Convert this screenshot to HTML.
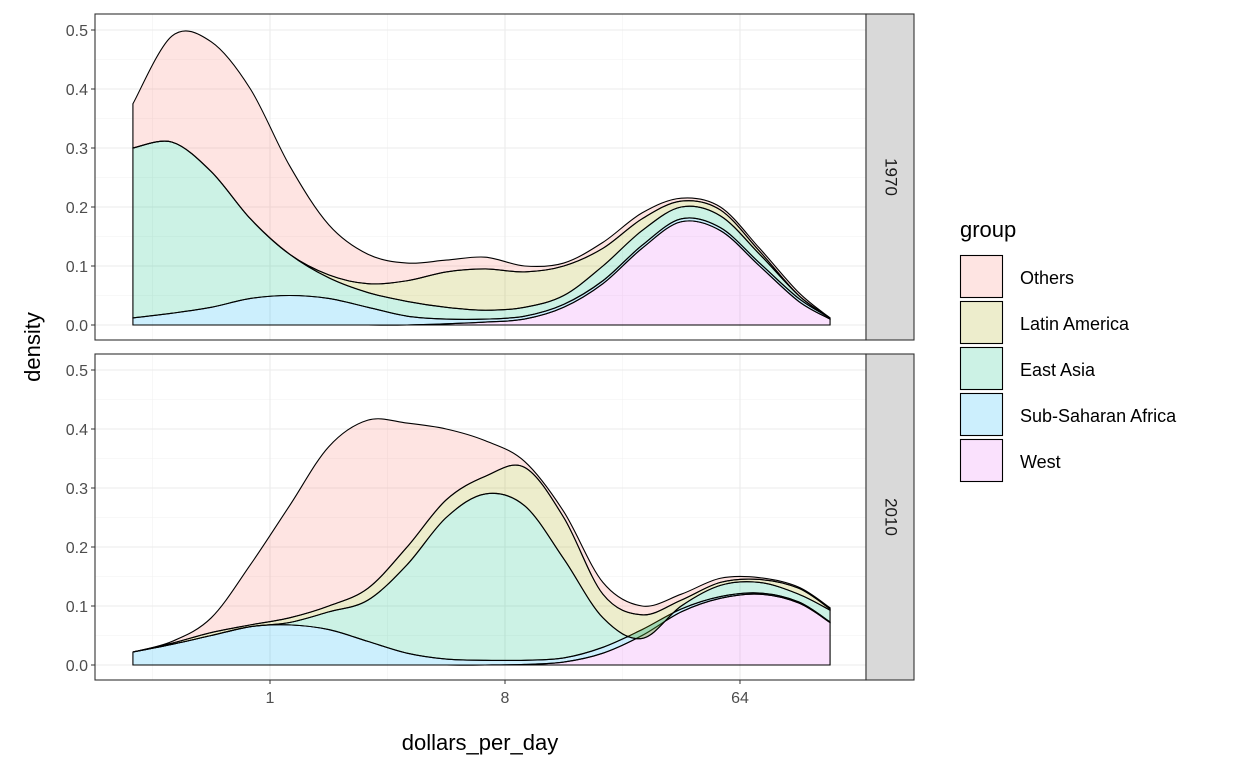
<!DOCTYPE html>
<html><head><meta charset="utf-8"><style>
body{margin:0;background:#fff;font-family:"Liberation Sans",sans-serif;}
svg text{font-family:"Liberation Sans",sans-serif;}
</style></head><body>
<svg id="c" width="1248" height="768" xmlns="http://www.w3.org/2000/svg"></svg>
<script>
const logX = [-1.75,-1.25,-0.75,-0.25,0.25,0.75,1.25,1.75,2.25,2.75,3.25,3.75,4.25,4.75,5.25,5.75,6.25,6.75,7.15];
const groups = ["West","Sub-Saharan Africa","East Asia","Latin America","Others"];
const colors = ["#E76BF3","#00B0F6","#00BF7D","#A3A500","#F8766D"];
const xTicks = [1,8,64];
const yTicks = [0,0.1,0.2,0.3,0.4,0.5];
// cumulative stacked tops, bottom (West) to top (Others)
const top1970 = [
 [0,0,0,0,0,0,0,0,0.002,0.005,0.01,0.03,0.07,0.13,0.175,0.16,0.1,0.04,0.01],
 [0.012,0.02,0.03,0.045,0.05,0.045,0.03,0.015,0.01,0.01,0.015,0.035,0.075,0.135,0.18,0.165,0.105,0.045,0.012],
 [0.3,0.31,0.26,0.18,0.12,0.08,0.055,0.04,0.03,0.025,0.03,0.05,0.1,0.16,0.2,0.185,0.12,0.05,0.012],
 [0.3,0.31,0.26,0.18,0.12,0.085,0.07,0.075,0.09,0.095,0.09,0.1,0.13,0.18,0.21,0.195,0.125,0.05,0.012],
 [0.375,0.49,0.48,0.4,0.27,0.17,0.12,0.105,0.11,0.115,0.1,0.105,0.14,0.19,0.215,0.2,0.13,0.055,0.012]
];
const top2010 = [
 [0,0,0,0,0,0,0,0,0,0,0.001,0.005,0.02,0.05,0.09,0.113,0.12,0.105,0.072],
 [0.022,0.035,0.05,0.065,0.068,0.06,0.04,0.02,0.01,0.008,0.008,0.012,0.03,0.06,0.095,0.116,0.122,0.107,0.073],
 [0.022,0.035,0.05,0.065,0.072,0.09,0.11,0.17,0.25,0.29,0.27,0.18,0.08,0.045,0.1,0.135,0.14,0.12,0.093],
 [0.022,0.037,0.055,0.068,0.08,0.1,0.13,0.2,0.28,0.32,0.335,0.25,0.12,0.085,0.11,0.14,0.145,0.13,0.095],
 [0.022,0.04,0.08,0.17,0.27,0.37,0.415,0.41,0.4,0.38,0.345,0.26,0.14,0.1,0.12,0.147,0.148,0.132,0.097]
];
const NS="http://www.w3.org/2000/svg", svg=document.getElementById('c');
function el(t,a,p){const e=document.createElementNS(NS,t);for(const k in a)e.setAttribute(k,a[k]);(p||svg).appendChild(e);return e;}
const X0=95,X1=866;
const xs=l=>270+78.33*l;
function curve(pts){let d="";for(let i=0;i<pts.length-1;i++){const p0=pts[Math.max(0,i-1)],p1=pts[i],p2=pts[i+1],p3=pts[Math.min(pts.length-1,i+2)];
 const c1=[p1[0]+(p2[0]-p0[0])/6,p1[1]+(p2[1]-p0[1])/6],c2=[p2[0]-(p3[0]-p1[0])/6,p2[1]-(p3[1]-p1[1])/6];
 d+=` C${c1[0]},${c1[1]} ${c2[0]},${c2[1]} ${p2[0]},${p2[1]}`;}return d;}
function panel(py,data,label){
 const ys=v=>py+311-v*590;
 const g=el('g',{});
 el('rect',{x:X0,y:py,width:X1-X0,height:326,fill:'#fff'},g);
 [-1.5,1.5,4.5].forEach(l=>el('line',{x1:xs(l),x2:xs(l),y1:py,y2:py+326,stroke:'#F2F2F2','stroke-width':0.6},g));
 [0.05,0.15,0.25,0.35,0.45].forEach(v=>el('line',{x1:X0,x2:X1,y1:ys(v),y2:ys(v),stroke:'#F2F2F2','stroke-width':0.6},g));
 xTicks.forEach(t=>el('line',{x1:xs(Math.log2(t)),x2:xs(Math.log2(t)),y1:py,y2:py+326,stroke:'#EBEBEB','stroke-width':1.1},g));
 yTicks.forEach(v=>{el('line',{x1:X0,x2:X1,y1:ys(v),y2:ys(v),stroke:'#EBEBEB','stroke-width':1.1},g);
  el('line',{x1:X0-4,x2:X0,y1:ys(v),y2:ys(v),stroke:'#333','stroke-width':1},g);
  const t=el('text',{x:X0-7,y:ys(v)+6,'text-anchor':'end','font-size':16,fill:'#4D4D4D'},g);t.textContent=v.toFixed(1);});
 for(let k=0;k<data.length;k++){
  const tp=logX.map((l,i)=>[xs(l),ys(data[k][i])]);
  const bt=logX.map((l,i)=>[xs(l),ys(k?data[k-1][i]:0)]).reverse();
  const d=`M${tp[0][0]},${tp[0][1]}`+curve(tp)+` L${bt[0][0]},${bt[0][1]}`+curve(bt)+'Z';
  const p=el('path',{d:d,fill:colors[k],'fill-opacity':0.2,stroke:'#000','stroke-width':1.1},g);
  
  
 }
 el('rect',{x:X0,y:py,width:X1-X0,height:326,fill:'none',stroke:'#333','stroke-width':1.1},g);
 el('rect',{x:X1,y:py,width:48,height:326,fill:'#D9D9D9',stroke:'#333','stroke-width':1.1},g);
 const st=el('text',{x:X1+24,y:py+163,'text-anchor':'middle','font-size':17,fill:'#1A1A1A',transform:`rotate(90 ${X1+24} ${py+163})`,'dominant-baseline':'middle'},g);
 st.textContent=label;
}
panel(14,top1970,'1970');panel(354,top2010,'2010');
xTicks.forEach(t=>{const x=xs(Math.log2(t));el('line',{x1:x,x2:x,y1:680,y2:684,stroke:'#333'});
 const tx=el('text',{x:x,y:703,'text-anchor':'middle','font-size':16,fill:'#4D4D4D'});tx.textContent=t;});
const xt=el('text',{x:480,y:750,'text-anchor':'middle','font-size':22});xt.textContent='dollars_per_day';

const yt=el('text',{x:40,y:347,'text-anchor':'middle','font-size':22,transform:'rotate(-90 40 347)'});yt.textContent='density';

const lt=el('text',{x:960,y:237,'font-size':22});lt.textContent='group';

for(let i=0;i<5;i++){const k=4-i,y=255+i*46;
 const lg=el('g',{});
 el('rect',{x:960,y:y,width:43,height:43,fill:'#fff'},lg);
 el('rect',{x:960.5,y:y+0.5,width:42,height:42,fill:colors[k],'fill-opacity':0.2,stroke:'#000','stroke-width':1.1},lg);
 const t=el('text',{x:1020,y:y+29,'font-size':18,fill:'#000'},lg);t.textContent=groups[k];}
</script>
</body></html>
